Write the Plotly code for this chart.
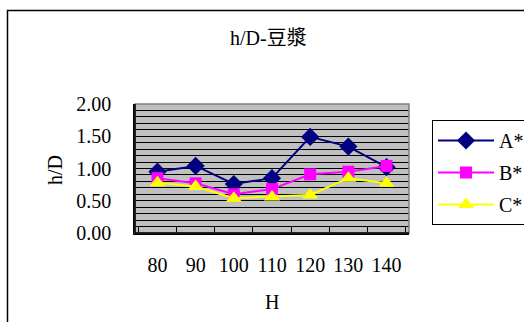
import plotly.graph_objects as go

categories = ["80", "90", "100", "110", "120", "130", "140"]
series_a = [0.95, 1.04, 0.76, 0.85, 1.49, 1.34, 1.02]
series_b = [0.85, 0.77, 0.60, 0.68, 0.91, 0.95, 1.04]
series_c = [0.78, 0.72, 0.54, 0.56, 0.59, 0.85, 0.77]
names = ["A*", "B*", "C*"]
y_ticks = [0, 0.5, 1.0, 1.5, 2.0]
y_labels = ["0.00", "0.50", "1.00", "1.50", "2.00"]

FONT = "Liberation Serif, Times New Roman, serif"
CJK_FONT = "Liberation Serif, Noto Sans CJK TC"

fig = go.Figure()
fig.add_trace(go.Scatter(x=categories, y=series_a, name=names[0], mode="lines+markers",
                         legendgroup="a",
                         line=dict(color="#000080", width=2),
                         marker=dict(symbol="diamond", size=14, color="#000080")))
fig.add_trace(go.Scatter(x=categories, y=series_b, name=names[1], mode="lines+markers",
                         legendgroup="b",
                         line=dict(color="#FF00FF", width=2),
                         marker=dict(symbol="square", size=12, color="#FF00FF")))
fig.add_trace(go.Scatter(x=categories, y=series_c, name=names[2], mode="lines+markers",
                         legendgroup="c",
                         line=dict(color="#FFFF00", width=2),
                         marker=dict(symbol="triangle-up", size=14, color="#FFFF00")))

fig.update_layout(
    width=524, height=322,
    margin=dict(l=135, r=115, t=104, b=89, autoexpand=False),
    paper_bgcolor="white",
    plot_bgcolor="#C0C0C0",
    font=dict(family=FONT, size=20, color="black"),
    showlegend=True,
    legend=dict(x=1.084, y=0.876, xanchor="left", yanchor="top",
                bordercolor="black", borderwidth=1, bgcolor="white",
                font=dict(family=FONT, size=20), itemwidth=56,
                tracegroupgap=3),
)
fig.update_xaxes(type="category", tickson="boundaries", ticks="inside", ticklen=6,
                 tickcolor="black", showgrid=False, showline=True, linecolor="black",
                 linewidth=1.5, ticklabelstandoff=13, zeroline=False, tickangle=0,
                 automargin=False)
fig.update_yaxes(range=[0, 2], tickvals=y_ticks, ticktext=y_labels, ticks="inside",
                 ticklen=6, tickcolor="black", showgrid=True, gridcolor="black", gridwidth=1,
                 minor=dict(dtick=0.1, showgrid=True, gridcolor="black", gridwidth=1, ticks=""),
                 showline=True, linecolor="black", linewidth=1.5, ticklabelstandoff=18,
                 zeroline=False, automargin=False)

# plot border (gray top/right)
fig.add_shape(type="rect", xref="paper", yref="paper", x0=0, y0=0, x1=1, y1=1,
              line=dict(color="#808080", width=1.5), layer="above")
fig.add_shape(type="line", xref="paper", yref="paper", x0=0, y0=0, x1=0, y1=1,
              line=dict(color="black", width=1.5), layer="above")
fig.add_shape(type="line", xref="paper", yref="paper", x0=0, y0=0, x1=1, y1=0,
              line=dict(color="black", width=1.5), layer="above")
# outer chart frame
fig.add_shape(type="rect", xref="paper", yref="paper", x0=-0.4653, y0=1.7248, x1=1.5, y1=-0.8,
              line=dict(color="black", width=1.5), layer="above")

fig.add_annotation(text="h/D-豆漿", xref="paper", yref="paper", x=(268 - 135) / 274, y=(233 - 38) / 129,
                   showarrow=False, font=dict(family=CJK_FONT, size=20), xanchor="center", yanchor="middle")
fig.add_annotation(text="h/D", xref="paper", yref="paper", x=(55 - 135) / 274, y=(233 - 170) / 129,
                   showarrow=False, textangle=-90, font=dict(family=FONT, size=20),
                   xanchor="center", yanchor="middle")
fig.add_annotation(text="H", xref="paper", yref="paper", x=(272 - 135) / 274, y=(233 - 302) / 129,
                   showarrow=False, font=dict(family=FONT, size=20), xanchor="center", yanchor="middle")

fig.write_html("out.html")
